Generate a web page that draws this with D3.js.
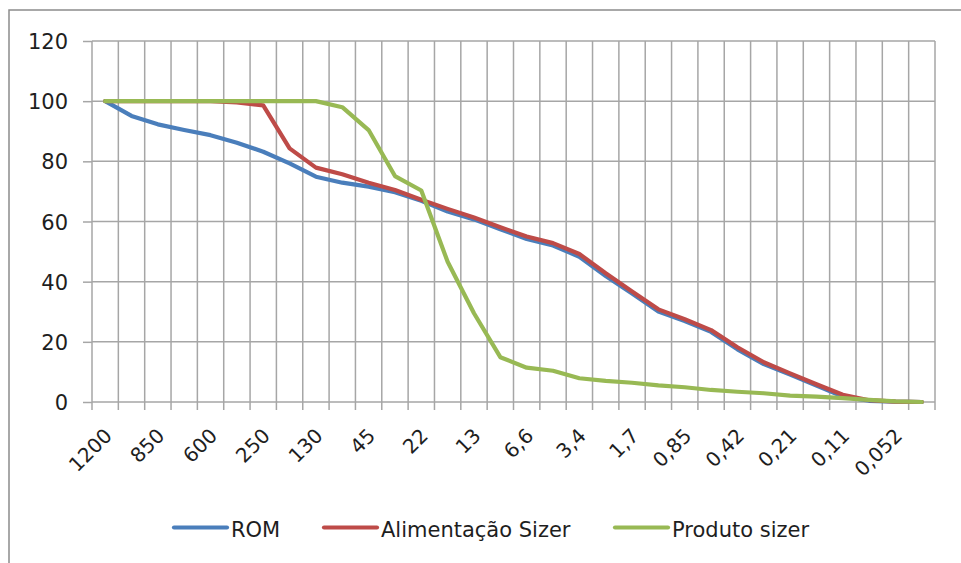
<!DOCTYPE html>
<html>
<head>
<meta charset="utf-8">
<script src="https://cdn.jsdelivr.net/npm/d3@7/dist/d3.min.js"></script>
<style>
  html, body { margin: 0; padding: 0; background: #fff; }
  svg { display: block; }
  .lbl { font-family: "DejaVu Sans", "Liberation Sans", Arial, sans-serif; fill: #1e1e1e; }
</style>
</head>
<body>
<svg id="chart" width="961" height="563"></svg>
<script>
// ---- data ----
const categories = ["1200","1000","850","710","600","425","250","180","130","75","45","32","22","16","13","9,5",
  "6,6","4,8","3,4","2,4","1,7","1,2","0,85","0,6","0,42","0,3","0,21","0,15","0,11","0,074","0,052","0,037"];
const tickLabels = ["1200","850","600","250","130","45","22","13","6,6","3,4","1,7","0,85","0,42","0,21","0,11","0,052"];
const seriesNames = ["ROM","Alimentação Sizer","Produto sizer"];
const rom = [100,95.1,92.3,90.4,88.7,86.2,83.2,79.3,74.9,72.9,71.6,69.7,66.9,63.3,60.7,57.4,
  54.2,52.0,48.3,41.9,36.1,30.1,26.9,23.3,17.5,12.6,9.1,5.5,1.8,0.4,0.1,0];
const alimentacao = [100,100,100,100,100,99.6,98.6,84.3,77.9,75.7,72.9,70.5,67.2,64.2,61.3,58.1,
  55.0,52.8,49.2,42.8,36.7,30.8,27.5,23.9,18.2,13.2,9.5,5.9,2.4,0.6,0.1,0];
const produto = [100,100,100,100,100,100,100,100,100,98.0,90.4,75.1,70.3,46.6,29.5,14.9,
  11.4,10.4,7.9,7.0,6.4,5.5,4.9,4.0,3.4,2.9,2.1,1.8,1.3,0.7,0.2,0];
const yTicks = [0,20,40,60,80,100,120];
const colors = ["#4a7ebb","#be4b48","#98b954"];

// ---- layout ----
const svg = d3.select("#chart");
const L = 92, R = 935, T = 41, B = 402;

// outer frame (cut off at right and bottom like the reference)
svg.append("rect").attr("x", 9).attr("y", 10).attr("width", 1000).attr("height", 600)
  .attr("fill", "none").attr("stroke", "#8c8c8c").attr("stroke-width", 1.5);

const x = d3.scaleBand().domain(categories).range([L, R]).paddingInner(0).paddingOuter(0);
const y = d3.scaleLinear().domain([0, 120]).range([B, T]);
const bw = x.bandwidth();
const cx = c => x(c) + bw / 2;

const gridColor = "#a6a6a6";

// horizontal grid + y axis
const yAxis = d3.axisLeft(y).tickValues(yTicks).tickSize(9).tickPadding(15);
const gy = svg.append("g").attr("transform", `translate(${L},0)`).call(yAxis);
gy.select(".domain").remove();
gy.selectAll(".tick line").attr("stroke", gridColor).attr("stroke-width", 1.5);
gy.selectAll(".tick text").attr("class", "lbl").style("font-size", "21px").attr("dy", "0.36em");
svg.append("g").selectAll("line").data(yTicks).join("line")
  .attr("x1", L).attr("x2", R).attr("y1", d => y(d)).attr("y2", d => y(d))
  .attr("stroke", gridColor).attr("stroke-width", 1.5);

// vertical grid lines at category boundaries (plus ticks below axis)
const bounds = categories.map(c => x(c)).concat([R]);
svg.append("g").selectAll("line").data(bounds).join("line")
  .attr("x1", d => d).attr("x2", d => d).attr("y1", T).attr("y2", B + 8)
  .attr("stroke", gridColor).attr("stroke-width", 1.5);

// x axis labels (every other category)
const xAxis = d3.axisBottom(x).tickValues(tickLabels).tickSize(0).tickFormat(d => d);
const gx = svg.append("g").attr("transform", `translate(0,${B})`).call(xAxis);
gx.select(".domain").remove();
gx.selectAll(".tick text")
  .attr("class", "lbl").style("font-size", "20px")
  .attr("text-anchor", "end")
  .attr("dy", null).attr("y", null)
  .attr("transform", "translate(8,35) rotate(-45)");

// lines
const line = d3.line().x((d, i) => cx(categories[i])).y(d => y(d));
[rom, alimentacao, produto].forEach((s, k) => {
  svg.append("path").datum(s).attr("d", line)
    .attr("fill", "none").attr("stroke", colors[k]).attr("stroke-width", 4.2)
    .attr("stroke-linejoin", "round").attr("stroke-linecap", "round");
});

// legend
const legendX = [174, 324, 615];
const lg = svg.append("g");
seriesNames.forEach((n, k) => {
  lg.append("line").attr("x1", legendX[k]).attr("x2", legendX[k] + 53).attr("y1", 527.5).attr("y2", 527.5)
    .attr("stroke", colors[k]).attr("stroke-width", 4.2).attr("stroke-linecap", "round");
  lg.append("text").attr("class", "lbl").attr("x", legendX[k] + 57).attr("y", 537)
    .style("font-size", "21px").text(n);
});
</script>
</body>
</html>
